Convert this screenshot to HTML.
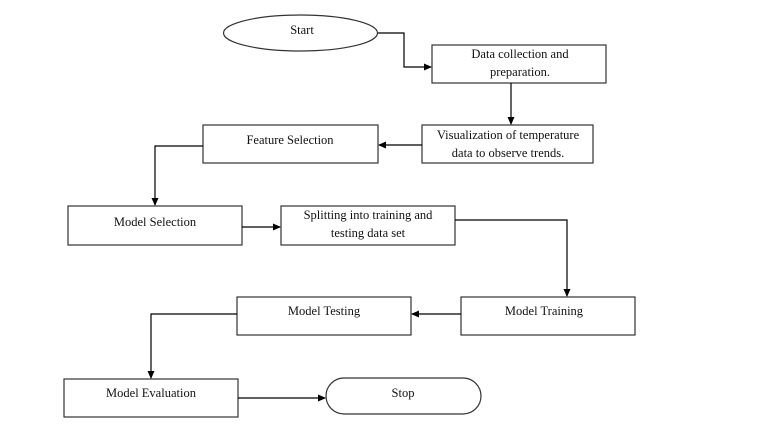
<!DOCTYPE html>
<html><head><meta charset="utf-8"><style>
html,body{margin:0;padding:0;background:#fff;}
svg{display:block;}
text{font-family:"Liberation Serif",serif;font-size:12.5px;fill:#111;text-anchor:middle;}
</style></head><body>
<svg width="764" height="431" viewBox="0 0 764 431" xmlns="http://www.w3.org/2000/svg">
<defs><marker id="a" markerWidth="8" markerHeight="8" refX="7" refY="4" orient="auto" markerUnits="userSpaceOnUse"><path d="M0,0.5 L8,4 L0,7.5 z" fill="#000"/></marker></defs>
<g fill="#fff" stroke="#333" stroke-width="1.2">
<ellipse cx="300.5" cy="33" rx="77" ry="18"/>
<rect x="432" y="45" width="174" height="38"/>
<rect x="422" y="125" width="171" height="38"/>
<rect x="203" y="125" width="175" height="38"/>
<rect x="68" y="206" width="174" height="39"/>
<rect x="281" y="206" width="174" height="39"/>
<rect x="461" y="297" width="174" height="38"/>
<rect x="237" y="297" width="174" height="38"/>
<rect x="64" y="379" width="174" height="38"/>
<rect x="326" y="378" width="155" height="36" rx="18" ry="18"/>
</g>
<g fill="none" stroke="#000" stroke-width="1.2">
<polyline points="378,33 404,33 404,67 431,67" marker-end="url(#a)"/>
<polyline points="511,83 511,124" marker-end="url(#a)"/>
<polyline points="422,145 379,145" marker-end="url(#a)"/>
<polyline points="203,146 155,146 155,205" marker-end="url(#a)"/>
<polyline points="242,227 280,227" marker-end="url(#a)"/>
<polyline points="455,220 567,220 567,296" marker-end="url(#a)"/>
<polyline points="461,314 412,314" marker-end="url(#a)"/>
<polyline points="237,314 151,314 151,378" marker-end="url(#a)"/>
<polyline points="238,398 325,398" marker-end="url(#a)"/>
</g>
<text x="302" y="34">Start</text>
<text x="520" y="58">Data collection and</text>
<text x="520" y="76">preparation.</text>
<text x="508" y="139">Visualization  of temperature</text>
<text x="508" y="157">data to observe trends.</text>
<text x="290" y="144">Feature Selection</text>
<text x="155" y="226">Model Selection</text>
<text x="368" y="219">Splitting  into training and</text>
<text x="368" y="237">testing data set</text>
<text x="544" y="315">Model Training</text>
<text x="324" y="315">Model Testing</text>
<text x="151" y="397">Model Evaluation</text>
<text x="403" y="397">Stop</text>
</svg>
</body></html>
